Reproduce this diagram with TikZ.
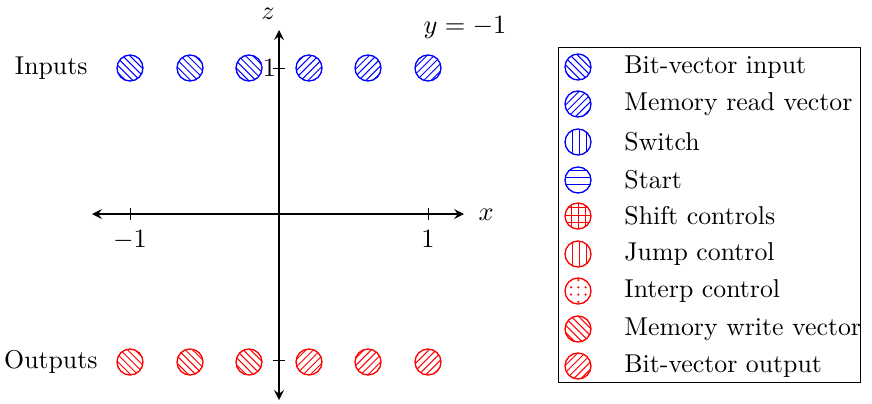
\documentclass[tikz,border=0pt]{standalone}
\usetikzlibrary{patterns}
\begin{document}
\begin{tikzpicture}[x=0.415pt,y=-0.415pt,font=\fontsize{10.7}{13}\selectfont,
  mk/.style={circle,draw=#1,line width=0.55pt,minimum size=10.8pt,inner sep=0pt},
  ax/.style={thick,<->,>=stealth}]
\useasboundingbox (0,0) rectangle (872,403);
\coordinate (xl) at (92,214); \coordinate (xr) at (464,214);
\coordinate (zb) at (279,400); \coordinate (zt) at (279,30);
\draw[ax] (xl) -- (xr);
\draw[ax] (zb) -- (zt);
\node[anchor=west] (xlab) at (470,215) {$x$};
\node (zlab) at (268,14) {$z$};
\node (ylab) at (465,28) {$y=-1$};
\foreach \t/\l in {130/{-1},428/{1}} {\draw (\t,208) -- (\t,220); \node[anchor=north] at (\t,222) {$\l$};}
\draw (273,68) -- (285,68); \draw (273,360) -- (285,360);
\node[anchor=east,inner sep=1pt] (one) at (279,68) {$1$};
\node[anchor=east] (inl) at (96,68) {Inputs};
\node[anchor=east] (outl) at (106,362) {Outputs};
\foreach \x in {130,190,249} {
  \node[mk=blue,pattern=north west lines,pattern color=blue] at (\x,68) {};
  \node[mk=red,pattern=north west lines,pattern color=red] at (\x,362) {};}
\foreach \x in {309,368,428} {
  \node[mk=blue,pattern=north east lines,pattern color=blue] at (\x,68) {};
  \node[mk=red,pattern=north east lines,pattern color=red] at (\x,362) {};}
\draw (558,47) rectangle (860,382);
\foreach \yy/\c/\p/\t in {67/blue/north west lines/Bit-vector input,
  104/blue/north east lines/Memory read vector,
  142/blue/vertical lines/Switch,
  180/blue/horizontal lines/Start,
  216/red/grid/Shift controls,
  254/red/vertical lines/Jump control,
  291/red/dots/Interp control,
  329/red/north west lines/Memory write vector,
  366/red/north east lines/Bit-vector output} {
  \node[mk=\c,pattern=\p,pattern color=\c] at (578,\yy) {};
  \node[anchor=west,inner sep=0pt] at (624,\yy) {\t};}
\end{tikzpicture}
\end{document}
